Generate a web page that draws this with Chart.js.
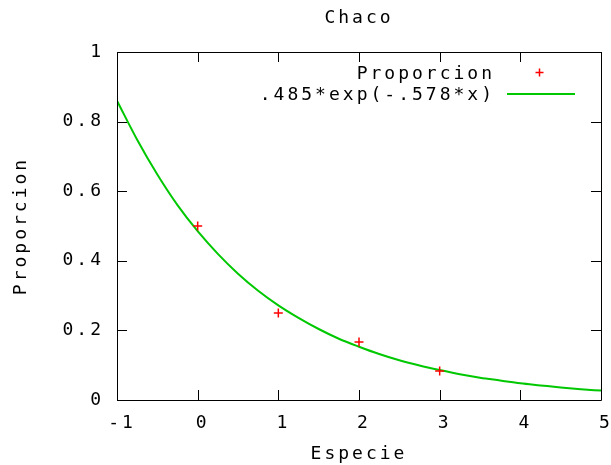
<!DOCTYPE html>
<html>
<head>
<meta charset="utf-8">
<script src="https://cdn.jsdelivr.net/npm/chart.js@4/dist/chart.umd.min.js"></script>
<style>
html,body{margin:0;padding:0;background:#fff;overflow:hidden;}
#wrap{width:611px;height:465px;position:relative;}
</style>
</head>
<body>
<div id="wrap"><canvas id="c" width="611" height="465"></canvas></div>
<script>
const titleText = 'Chaco';
const xAxisTitle = 'Especie';
const yAxisTitle = 'Proporcion';
const xTicks = [-1, 0, 1, 2, 3, 4, 5];
const yTicks = [0, 0.2, 0.4, 0.6, 0.8, 1];

const pointLabel = 'Proporcion';
const pointX = [0, 1, 2, 3];
const pointY = [0.5, 0.25, 0.1667, 0.0833];

const fitLabel = '.485*exp(-.578*x)';
const fitX = [-1, -0.75, -0.5, -0.25, 0, 0.25, 0.5, 0.75, 1, 1.25, 1.5, 1.75, 2, 2.25, 2.5, 2.75, 3, 3.25, 3.5, 3.75, 4, 4.25, 4.5, 4.75, 5];
const fitY = [0.86, 0.748, 0.648, 0.560, 0.485, 0.420, 0.363, 0.314, 0.272, 0.236, 0.204, 0.176, 0.153, 0.132, 0.114, 0.099, 0.086, 0.074, 0.064, 0.056, 0.048, 0.042, 0.036, 0.031, 0.027];

const FONT = 'DejaVu Sans Mono';
const FSIZE = 18;
const SPACING = '3px';
Chart.defaults.font.family = FONT;
Chart.defaults.font.size = FSIZE;
Chart.defaults.color = '#000';

const frame = {
  id: 'frame',
  beforeInit(chart) { chart.ctx.letterSpacing = SPACING; },
  beforeUpdate(chart) { chart.ctx.letterSpacing = SPACING; },
  beforeDraw(chart) { chart.ctx.letterSpacing = SPACING; },
  afterDatasetsDraw(chart) {
    const {ctx, chartArea: a, scales} = chart;
    ctx.save();
    ctx.strokeStyle = '#000';
    ctx.lineWidth = 1;
    ctx.beginPath();
    ctx.rect(Math.round(a.left) + 0.5, Math.round(a.top) + 0.5, Math.round(a.right - a.left), Math.round(a.bottom - a.top));
    const L = 10;
    xTicks.forEach(v => {
      const x = Math.round(scales.x.getPixelForValue(v)) + 0.5;
      ctx.moveTo(x, a.bottom); ctx.lineTo(x, a.bottom - L);
      ctx.moveTo(x, a.top); ctx.lineTo(x, a.top + L);
    });
    yTicks.forEach(v => {
      const y = Math.round(scales.y.getPixelForValue(v)) + 0.5;
      ctx.moveTo(a.left, y); ctx.lineTo(a.left + L, y);
      ctx.moveTo(a.right, y); ctx.lineTo(a.right - L, y);
    });
    ctx.stroke();
    // legend
    ctx.letterSpacing = SPACING;
    ctx.font = FSIZE + 'px "' + FONT + '"';
    ctx.textAlign = 'right';
    ctx.textBaseline = 'middle';
    ctx.fillStyle = '#000';
    const ds = chart.data.datasets;
    const textRight = a.right - 106;
    const sL = a.right - 94, sR = a.right - 26;
    const rows = [73, 94];
    ds.forEach((d, i) => {
      const y = rows[i];
      ctx.fillText(d.label, textRight, y + 1);
      ctx.beginPath();
      ctx.strokeStyle = d.borderColor;
      if (i === 0) {
        const cx = Math.round((sL + sR) / 2) - 1.5, cy = Math.round(y) - 0.5;
        ctx.lineWidth = 1.5;
        ctx.moveTo(cx - 4, cy); ctx.lineTo(cx + 4, cy);
        ctx.moveTo(cx, cy - 4); ctx.lineTo(cx, cy + 4);
      } else {
        ctx.lineWidth = 2;
        ctx.moveTo(sL, y); ctx.lineTo(sR, y);
      }
      ctx.stroke();
    });
    ctx.restore();
  }
};

new Chart(document.getElementById('c'), {
  type: 'scatter',
  data: {
    datasets: [
      {
        label: pointLabel,
        data: pointX.map((x, i) => ({x, y: pointY[i]})),
        pointStyle: 'cross',
        pointRadius: 4.5,
        borderColor: '#ff0000',
        backgroundColor: '#ff0000',
        borderWidth: 1.5,
        showLine: false
      },
      {
        label: fitLabel,
        data: fitX.map((x, i) => ({x, y: fitY[i]})),
        showLine: true,
        pointRadius: 0,
        borderColor: '#00c800',
        borderWidth: 2,
        cubicInterpolationMode: 'monotone',
        fill: false
      }
    ]
  },
  plugins: [frame],
  options: {
    responsive: false,
    animation: false,
    events: [],
    layout: {padding: {left: 0, right: 10, top: 0, bottom: 0}},
    plugins: {
      legend: {display: false},
      tooltip: {enabled: false},
      title: {
        display: true,
        fullSize: false,
        text: titleText,
        color: '#000',
        font: {family: FONT, size: FSIZE, weight: 'normal'},
        padding: {top: 7.7, bottom: 22.7}
      }
    },
    scales: {
      x: {
        type: 'linear',
        min: -1, max: 5,
        afterBuildTicks(s) { s.ticks = xTicks.map(v => ({value: v})); },
        afterFit(s) { s.height = 65; s.paddingLeft = 0; s.paddingRight = 0; },
        grid: {display: false, drawTicks: false},
        border: {display: false},
        ticks: {padding: 13, labelOffset: 5, maxRotation: 0, autoSkip: false, color: '#000', font: {family: FONT, size: FSIZE}},
        title: {display: true, text: xAxisTitle, color: '#000', font: {family: FONT, size: FSIZE}, padding: {top: 0, bottom: 0}}
      },
      y: {
        type: 'linear',
        min: 0, max: 1,
        afterBuildTicks(s) { s.ticks = yTicks.map(v => ({value: v})); },
        afterFit(s) { s.width = 117; s.paddingTop = 0; s.paddingBottom = 0; },
        grid: {display: false, drawTicks: false},
        border: {display: false},
        ticks: {padding: 13, autoSkip: false, color: '#000', font: {family: FONT, size: FSIZE},
          callback: v => String(v)},
        title: {display: true, text: yAxisTitle, color: '#000', font: {family: FONT, size: FSIZE}, padding: {top: 10.7, bottom: 0}}
      }
    }
  }
});
</script>
</body>
</html>
